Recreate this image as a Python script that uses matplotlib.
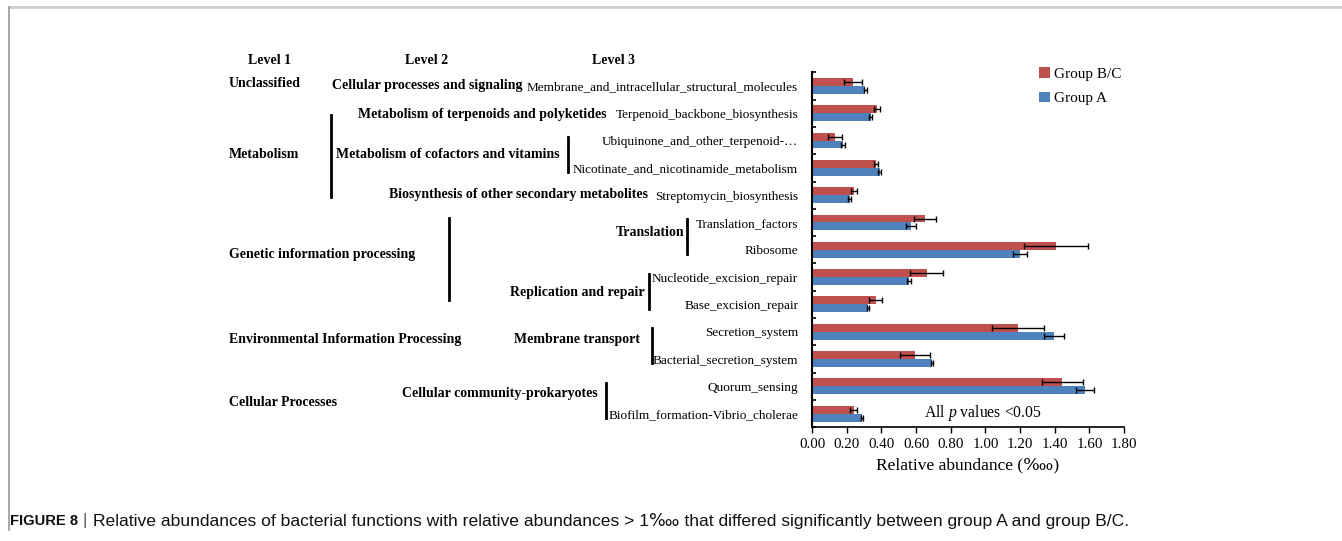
import matplotlib
matplotlib.use("Agg")
import matplotlib.pyplot as plt
import matplotlib.transforms as mtransforms
from matplotlib.lines import Line2D
import numpy as np

plt.rcParams['font.family'] = ['Liberation Serif', 'DejaVu Serif', 'DejaVu Sans']
plt.rcParams['mathtext.fontset'] = 'custom'
plt.rcParams['mathtext.rm'] = 'Liberation Serif'
plt.rcParams['mathtext.it'] = 'Liberation Serif:italic'

# KEGG pathways (level 3), top to bottom
level3 = ['Membrane_and_intracellular_structural_molecules',
          'Terpenoid_backbone_biosynthesis',
          'Ubiquinone_and_other_terpenoid-…',
          'Nicotinate_and_nicotinamide_metabolism',
          'Streptomycin_biosynthesis',
          'Translation_factors',
          'Ribosome',
          'Nucleotide_excision_repair',
          'Base_excision_repair',
          'Secretion_system',
          'Bacterial_secretion_system',
          'Quorum_sensing',
          'Biofilm_formation-Vibrio_cholerae']

# relative abundance (per ten thousand) and error
group_bc = [0.237, 0.375, 0.135, 0.371, 0.242, 0.654, 1.41, 0.662, 0.367, 1.188, 0.594, 1.444, 0.24]
group_bc_err = [0.05, 0.018, 0.04, 0.012, 0.015, 0.063, 0.185, 0.095, 0.036, 0.15, 0.087, 0.117, 0.02]
group_a = [0.308, 0.338, 0.179, 0.39, 0.217, 0.573, 1.202, 0.558, 0.325, 1.398, 0.692, 1.575, 0.29]
group_a_err = [0.01, 0.01, 0.01, 0.008, 0.01, 0.029, 0.04, 0.012, 0.005, 0.057, 0.006, 0.05, 0.006]

# level 1 categories: label, rows covered
level1 = [('Unclassified', 0, 0),
          ('Metabolism', 1, 4),
          ('Genetic information processing', 5, 8),
          ('Environmental Information Processing', 9, 10),
          ('Cellular Processes', 11, 12)]

# level 2 categories: label, first row, last row
level2 = [('Cellular processes and signaling', 0, 0),
          ('Metabolism of terpenoids and polyketides', 1, 1),
          ('Metabolism of cofactors and vitamins', 2, 3),
          ('Biosynthesis of other secondary metabolites', 4, 4),
          ('Translation', 5, 6),
          ('Replication and repair', 7, 8),
          ('Membrane transport', 9, 10),
          ('Cellular community-prokaryotes', 11, 12)]

W, H = 1342, 541
fig = plt.figure(figsize=(W / 100, H / 100), dpi=100)
ax = fig.add_axes([812 / W, 1 - 427.3 / H, (1124 - 812) / W, (427.3 - 72.3) / H])

red = '#C0504D'
blue = '#4F81BD'
y = np.arange(len(level3))
bh = 0.29
ekw = dict(ecolor='black', elinewidth=1, capsize=2.5, capthick=1)
b1 = ax.barh(y - bh / 2, group_bc, height=bh, color=red, xerr=group_bc_err, error_kw=ekw)
b2 = ax.barh(y + bh / 2, group_a, height=bh, color=blue, xerr=group_a_err, error_kw=ekw)

ax.set_ylim(len(level3) - 0.5, -0.5)
ax.set_xlim(0, 1.8)
ax.set_xticks(np.arange(0, 1.81, 0.2))
ax.set_xticklabels([f'{v:.2f}' for v in np.arange(0, 1.81, 0.2)], fontsize=10.8)
ax.set_yticks(y)
ax.set_yticklabels(level3, fontsize=9.5)
ax.set_yticks(np.arange(-0.5, len(level3), 1), minor=True)
ax.tick_params(axis='y', which='major', length=0, pad=10)
ax.tick_params(axis='y', which='minor', length=3, width=1.2, direction='in')
ax.tick_params(axis='x', length=4, width=1, direction='out', pad=4)
for s in ['top', 'right']:
    ax.spines[s].set_visible(False)
ax.spines['left'].set_linewidth(1.5)
ax.spines['bottom'].set_linewidth(1.2)
ax.set_xlabel('Relative abundance (‱)', fontsize=12.5, labelpad=4)

ax.legend([b1, b2], ['Group B/C', 'Group A'], loc='upper left',
          bbox_to_anchor=(1039 / W, 1 - 67 / H), bbox_transform=fig.transFigure,
          frameon=False, fontsize=11, handlelength=0.7, handleheight=0.7,
          handletextpad=0.3, labelspacing=0.72, borderpad=0, borderaxespad=0)

ax.text(0.36, 11.98, 'All $\\it{p}$ values <0.05',
        transform=mtransforms.blended_transform_factory(ax.transAxes, ax.transData),
        fontsize=11.3, ha='left', va='center')

# hierarchy labels to the left of the axes (x in figure fraction, y in rows)
tr = mtransforms.blended_transform_factory(fig.transFigure, ax.transData)
bold = dict(fontsize=10, fontweight='bold', va='center')

for name, xc in [('Level 1', 270), ('Level 2', 427), ('Level 3', 613)]:
    fig.text(xc / W, 1 - 61 / H, name, ha='center', va='center', fontsize=10, fontweight='bold')

l1_y = [-0.1, 2.5, 6.19, 9.27, 11.6]
for (name, r0, r1), yy in zip(level1, l1_y):
    fig.text(229 / W, yy, name, transform=tr, ha='left', **bold)

l1_bars = {'Metabolism': (331, 1.07, 4.07), 'Genetic information processing': (449, 4.84, 7.84)}
for name, (bx, y0, y1) in l1_bars.items():
    fig.add_artist(Line2D([bx / W, bx / W], [y0, y1], transform=tr, color='black', lw=2))

l2_y = [-0.03, 1.03, 2.5, 3.99, 5.35, 7.58, 9.3, 11.28]
l2_right = [523, 607, 560, 648, 684, 645, 640, 598]
l2_bar = [None, None, 568, None, 687, 649, 652, 606]
for (name, r0, r1), yy, xr, bx in zip(level2, l2_y, l2_right, l2_bar):
    fig.text(xr / W, yy, name, transform=tr, ha='right', **bold)
    if bx is not None:
        fig.add_artist(Line2D([bx / W, bx / W], [r0 - 0.12, r1 + 0.15], transform=tr, color='black', lw=2))

# frame lines and caption
fig.add_artist(Line2D([9 / W, 1], [1 - 7 / H, 1 - 7 / H], color='#cccccc', lw=2))
fig.add_artist(Line2D([9 / W, 9 / W], [1 - 7 / H, 1 - 530 / H], color='#999999', lw=1.2))

cap = ['Liberation Sans', 'DejaVu Sans']
fig.text(10 / W, 1 - 521 / H, 'FIGURE 8', family=cap, fontsize=10.6, fontweight='bold', color='#111111', va='center')
fig.text(83 / W, 1 - 521 / H, '|', family=cap, fontsize=12, color='#555555', va='center')
fig.text(93 / W, 1 - 521 / H,
         'Relative abundances of bacterial functions with relative abundances > 1‱ that differed significantly between group A and group B/C.',
         family=cap, fontsize=12.6, color='#111111', va='center')

fig.savefig('out.png', dpi=100)
